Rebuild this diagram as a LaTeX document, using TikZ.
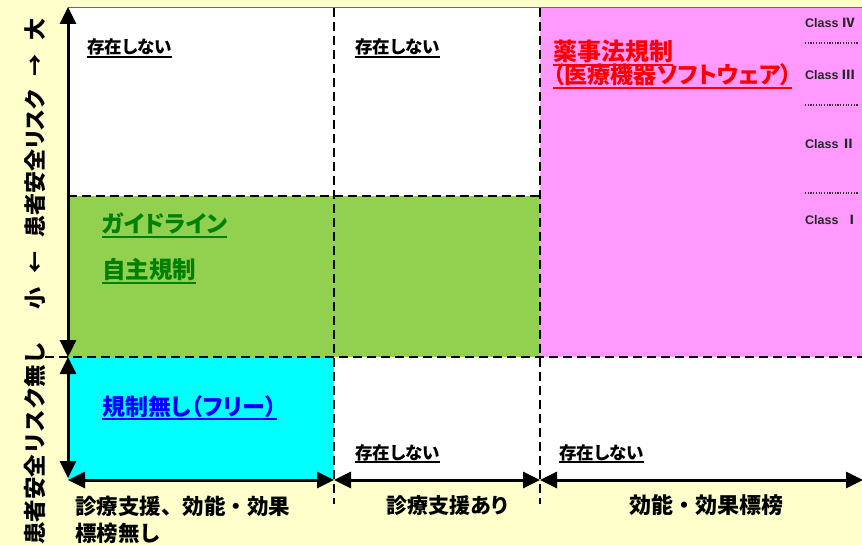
\documentclass[tikz,border=0pt]{standalone}
\usepackage{fontspec}
\usetikzlibrary{arrows.meta}
\setmainfont{Liberation Sans}
\newfontfamily\jp{Noto Sans CJK JP}[RawFeature=+palt]
\newfontfamily\jpf{Noto Sans CJK JP}
\definecolor{bgyellow}{HTML}{FFFFCC}
\definecolor{pinkc}{HTML}{FF99FF}
\definecolor{greenc}{HTML}{92D050}
\definecolor{cyanc}{HTML}{00FFFF}
\definecolor{gtext}{HTML}{008000}
\newcommand\myul[1]{\setbox0\hbox{#1}\rlap{\rule[-0.21em]{\wd0}{0.075em}}\box0}
\tikzset{
  jt/.style={inner sep=0pt, font=\jp\bfseries\fontsize{#1}{#1}\selectfont},
  jt/.default=22,
  jf/.style={inner sep=0pt, font=\jpf\bfseries\fontsize{#1}{#1}\selectfont},
  dsh/.style={draw=black, line width=2pt, dash pattern=on 9pt off 5pt},
  axis/.style={draw=black, line width=3pt, {Triangle[length=17pt,width=16pt]}-{Triangle[length=17pt,width=16pt]}},
  dotl/.style={draw=black!80, line width=1.2pt, dash pattern=on 1.2pt off 1.5pt},
  cls/.style={inner sep=0pt, anchor=base west, font=\bfseries\fontsize{12.5}{12.5}\selectfont, text=black!85},
}
\begin{document}
\begin{tikzpicture}[x=1pt,y=-1pt]
\fill[bgyellow] (0,0) rectangle (862,545);
\useasboundingbox (0,0) rectangle (862,545);
% regions
\fill[white] (68,8) rectangle (862,480);
\fill[pinkc] (540,8) rectangle (862,357);
\fill[greenc] (68,196) rectangle (540,357);
\fill[cyanc] (68,357) rectangle (334,480);
\draw[gray!70!violet, line width=1pt] (68,8) -- (862,8);
% dashed separators
\draw[dsh] (68,196) -- (540,196);
\draw[dsh] (45,357) -- (862,357);
\draw[dsh] (334,8) -- (334,504);
\draw[dsh] (540,8) -- (540,504);
% axes
\coordinate (vtop) at (68,7);
\coordinate (vmid) at (68,357);
\coordinate (vbot) at (68,478);
\coordinate (h0) at (68,480);
\coordinate (h1) at (334,480);
\coordinate (h2) at (540,480);
\coordinate (h3) at (863,480);
\draw[axis] (vtop) -- (vmid);
\draw[axis] (vmid) -- (vbot);
\draw[axis] (h0) -- (h1);
\draw[axis] (h1) -- (h2);
\draw[axis] (h2) -- (h3);
% cell texts
\node[jt=17.5, anchor=base west] (n1) at (87,54) {\myul{存在しない}};
\node[jt=17.5, anchor=base west] (n2) at (355,54) {\myul{存在しない}};
\node[jt=17.5, anchor=base west] (n3) at (355,459) {\myul{存在しない}};
\node[jt=17.5, anchor=base west] (n4) at (559,459) {\myul{存在しない}};
\node[jt=24, anchor=base west, text=red] (y1) at (553,61) {\myul{薬事法規制}};
\node[jt=23, anchor=base west, text=red] (y2) at (553,84) {\myul{（医療機器ソフトウェア）}};
\node[jt=23, anchor=base west, text=gtext] (g1) at (102,233) {\myul{ガイドライン}};
\node[jt=23.5, anchor=base west, text=gtext] (g2) at (102,279) {\myul{自主規制}};
\node[jt=23, anchor=base west, text=blue] (b1) at (102,415) {\myul{規制無し（フリー）}};
% classes
\node[cls] (c4) at (805,28) {Class {\jp Ⅳ}};
\node[cls] (c3) at (805,80) {Class {\jp Ⅲ}};
\node[cls] (c2) at (805,149) {Class {\jp Ⅱ}};
\node[cls] (c1) at (805,225) {Class\ \ {\jp Ⅰ}};
\coordinate (d1a) at (805,43); \coordinate (d1b) at (859,43);
\coordinate (d2a) at (805,105); \coordinate (d2b) at (859,105);
\coordinate (d3a) at (805,193); \coordinate (d3b) at (859,193);
\draw[dotl] (d1a) -- (d1b);
\draw[dotl] (d2a) -- (d2b);
\draw[dotl] (d3a) -- (d3b);
% axis labels
\node[jt=22, rotate=90] (ly) at (35,164) {小\hspace{14pt}←\hspace{14pt}患者安全リスク\hspace{14pt}→\hspace{14pt}大};
\node[jf=22.5, rotate=90, anchor=east] (ly2) at (35,342) {患者安全リスク無し};
\node[jf=21.5, anchor=base west] (x1) at (75,514) {診療支援、効能・効果};
\node[jf=21.5, anchor=base west] (x1b) at (75,541) {標榜無し};
\node[jt=21, anchor=base] (x2) at (447,513) {診療支援あり};
\node[jf=22, anchor=base] (x3) at (706,513) {効能・効果標榜};
\end{tikzpicture}
\end{document}
